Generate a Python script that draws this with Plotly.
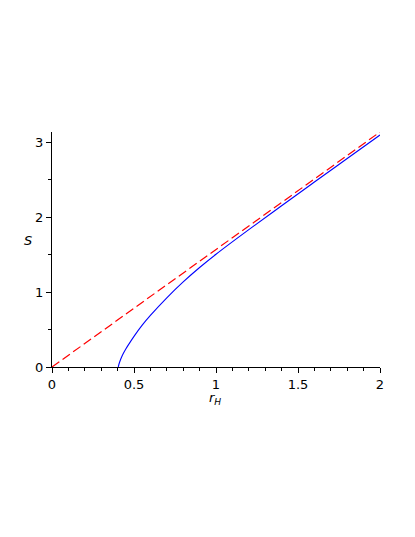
import plotly.graph_objects as go

# values
r_blue = [0.404, 0.41, 0.42, 0.43, 0.45, 0.47, 0.5, 0.55, 0.6, 0.7, 0.8, 0.9, 1.0, 1.2, 1.4, 1.6, 1.8, 2.0]
s_blue = [0.0, 0.05, 0.11, 0.16, 0.24, 0.31, 0.41, 0.56, 0.69, 0.925, 1.137, 1.329, 1.506, 1.835, 2.154, 2.471, 2.786, 3.10]

r_red = [0.0, 2.0]
s_red = [0.0, 3.14]

fig = go.Figure()
fig.add_trace(go.Scatter(x=r_red, y=s_red, mode="lines",
                         line=dict(color="#ff0000", width=1.2, dash="9px,4px")))
fig.add_trace(go.Scatter(x=r_blue, y=s_blue, mode="lines", line_shape="spline",
                         line=dict(color="#0000ff", width=1.1)))

axis_font = dict(family="DejaVu Sans", size=13, color="black")
fig.update_xaxes(range=[0, 2], showgrid=False, zeroline=False, showline=True,
                 linecolor="black", linewidth=1, ticks="outside", ticklen=5,
                 tickcolor="black", tickvals=[0, 0.5, 1, 1.5, 2],
                 ticktext=["0", "0.5", "1", "1.5", "2"], tickfont=axis_font,
                 minor=dict(dtick=0.1, ticks="outside", ticklen=3, tickcolor="black"))
fig.update_yaxes(range=[0, 3.14], showgrid=False, zeroline=False, showline=True,
                 linecolor="black", linewidth=1, ticks="outside", ticklen=5,
                 tickcolor="black", tickvals=[0, 1, 2, 3], tickfont=axis_font,
                 minor=dict(dtick=0.5, ticks="outside", ticklen=3, tickcolor="black"))

# axis titles (Maple style: S to the left, r_H below)
fig.add_annotation(text="<i>S</i>", x=-0.073, y=0.54, xref="paper", yref="paper",
                   xanchor="center", yanchor="middle", showarrow=False,
                   font=dict(family="DejaVu Sans", size=13, color="black"))
fig.add_annotation(text="<i>r</i><sub><i>H</i></sub>", x=0.497, y=-0.135,
                   xref="paper", yref="paper", xanchor="center", yanchor="middle",
                   showarrow=False, font=dict(family="DejaVu Sans", size=13, color="black"))

fig.update_layout(width=415, height=537, showlegend=False,
                  plot_bgcolor="white", paper_bgcolor="white",
                  margin=dict(l=44, r=43, t=124, b=178))

fig.write_html("out.html")
